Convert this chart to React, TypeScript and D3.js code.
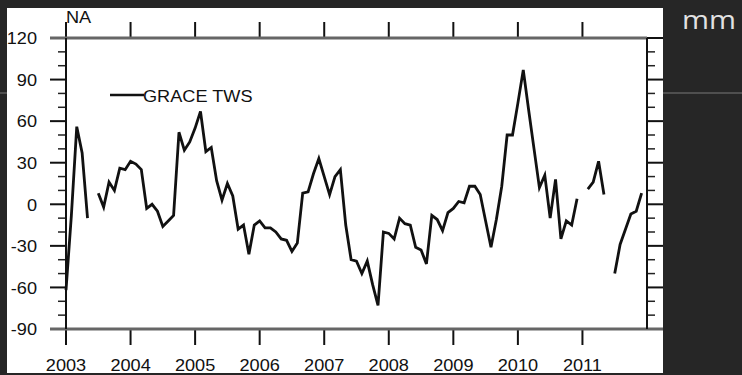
import React from "react";
import * as d3 from "d3";

// Monthly GRACE terrestrial water storage anomaly (mm), Jan 2003 – Dec 2011; null = missing month
const tws2003 = [-62, -8, 56, 37, -10, null, 8, -2, 16, 10, 26, 25];
const tws2004 = [31, 29, 25, -3, 0, -5, -16, -12, -8, 52, 39, 45];
const tws2005 = [55, 67, 38, 41, 17, 3, 15, 6, -18, -15, -36, -15];
const tws2006 = [-12, -17, -17, -20, -25, -26, -34, -28, 8, 9, 22, 33];
const tws2007 = [20, 7, 20, 25, -15, -40, -41, -50, -41, -58, -73, -20];
const tws2008 = [-21, -25, -10, -14, -15, -31, -33, -43, -8, -11, -19, -6];
const tws2009 = [-3, 2, 1, 13, 13, 7, -12, -31, -11, 13, 50, 50];
const tws2010 = [73, 97, 68, 40, 12, 21, -10, 18, -25, -12, -15, 4];
const tws2011 = [null, 11, 16, 31, 7, null, -50, -29, -18, -7, -5, 8];

const startYear = 2003;
const yearTicks = [2003, 2004, 2005, 2006, 2007, 2008, 2009, 2010, 2011];
const valueTicks = [-90, -60, -30, 0, 30, 60, 90, 120];
const minorValueTicks = [-80, -70, -50, -40, -20, -10, 10, 20, 40, 50, 70, 80, 100, 110];
const seriesName = "GRACE TWS";
const regionLabel = "NA";
const unitLabel = "mm";

const series: (number | null)[] = [
  ...tws2003, ...tws2004, ...tws2005, ...tws2006, ...tws2007,
  ...tws2008, ...tws2009, ...tws2010, ...tws2011,
];

const W = 742;
const H = 375;
const plot = { left: 66, right: 647, top: 38, bottom: 329 };
const font = "'Liberation Sans', Arial, Helvetica, sans-serif";
const stretch = "scale(1.1,1)";

export default function App() {
  const x = d3.scaleLinear().domain([2003, 2012]).range([plot.left, plot.right]);
  const y = d3.scaleLinear().domain([-90, 120]).range([plot.bottom, plot.top]);

  const pts = series.map((v, i) => ({ t: startYear + i / 12, v }));
  const line = d3
    .line<{ t: number; v: number | null }>()
    .defined((d) => d.v !== null)
    .x((d) => x(d.t))
    .y((d) => y(d.v as number));

  return (
    <svg width={W} height={H} style={{ position: "absolute", left: 0, top: 0 }}>
      <rect x={0} y={0} width={W} height={H} fill="#262626" />
      <line x1={0} x2={W} y1={93} y2={93} stroke="#5e5e5e" strokeWidth={1.5} />
      <rect x={7} y={8} width={656} height={365} fill="#ffffff" />

      {/* year ticks, top and bottom, pointing outward */}
      {yearTicks.map((yr) => (
        <g key={yr}>
          <line x1={x(yr)} x2={x(yr)} y1={plot.top} y2={plot.top - 16} stroke="#111" strokeWidth={2} />
          <line x1={x(yr)} x2={x(yr)} y1={plot.bottom} y2={plot.bottom + 16} stroke="#111" strokeWidth={2} />
          <text
            transform={`translate(${x(yr)},${371}) ${stretch}`}
            textAnchor="middle"
            fontFamily={font}
            fontSize={16.5}
            fill="#111"
          >
            {yr}
          </text>
        </g>
      ))}

      {/* value ticks on left and right */}
      {valueTicks.map((v) => (
        <g key={v}>
          <line x1={plot.left} x2={plot.left - 16} y1={y(v)} y2={y(v)} stroke="#111" strokeWidth={2} />
          <line x1={plot.right} x2={plot.right + 16} y1={y(v)} y2={y(v)} stroke="#111" strokeWidth={2} />
          <text
            transform={`translate(37,${y(v) + 6.3}) ${stretch}`}
            textAnchor="end"
            fontFamily={font}
            fontSize={16.5}
            fill="#111"
          >
            {v}
          </text>
        </g>
      ))}
      {minorValueTicks.map((v) => (
        <g key={`m${v}`}>
          <line x1={plot.left} x2={plot.left - 8} y1={y(v)} y2={y(v)} stroke="#222" strokeWidth={1.5} />
          <line x1={plot.right} x2={plot.right + 8} y1={y(v)} y2={y(v)} stroke="#222" strokeWidth={1.5} />
        </g>
      ))}

      {/* frame */}
      <line x1={plot.left - 16} x2={plot.right} y1={plot.top} y2={plot.top} stroke="#666" strokeWidth={3} />
      <line x1={plot.left - 16} x2={plot.right + 16} y1={plot.bottom} y2={plot.bottom} stroke="#666" strokeWidth={3} />
      <line x1={plot.left} x2={plot.left} y1={plot.top} y2={plot.bottom} stroke="#111" strokeWidth={2} />
      <line x1={plot.right} x2={plot.right} y1={plot.top} y2={plot.bottom} stroke="#111" strokeWidth={2} />

      <path d={line(pts) ?? ""} fill="none" stroke="#111" strokeWidth={2.8} strokeLinejoin="miter" />

      {/* legend */}
      <line x1={110} x2={144} y1={95} y2={95} stroke="#111" strokeWidth={2.5} />
      <text transform={`translate(143,101.7) ${stretch}`} fontFamily={font} fontSize={16.5} fill="#111">
        {seriesName}
      </text>

      <text transform={`translate(66,23) ${stretch}`} fontFamily={font} fontSize={16.5} fill="#111">
        {regionLabel}
      </text>

      <text
        x={682}
        y={29}
        fontFamily="'Open Sans', sans-serif"
        fontSize={26}
        textLength={54}
        lengthAdjust="spacingAndGlyphs"
        fill="#e2e2e2"
      >
        {unitLabel}
      </text>
    </svg>
  );
}
